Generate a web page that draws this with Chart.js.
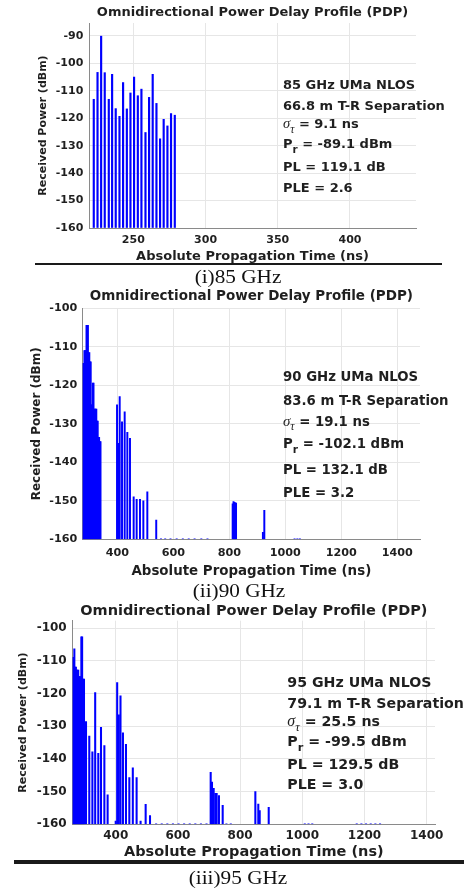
<!DOCTYPE html>
<html>
<head>
<meta charset="utf-8">
<script src="https://cdn.jsdelivr.net/npm/chart.js@4.4.1/dist/chart.umd.min.js"></script>
<style>
  body { margin: 0; background: #fff; }
  #page { position: relative; width: 464px; height: 890px; overflow: hidden; }
  canvas { position: absolute; left: 0; }
  .note { position: absolute; font-family: 'DejaVu Sans'; font-weight: bold; color: #1f1f1f; white-space: nowrap; line-height: 16px; }
  .note i { font-family: 'Liberation Serif'; font-weight: normal; font-size: 112%; }
  .note sub { font-size: 80%; vertical-align: -0.45em; line-height: 0; }
  .cap { position: absolute; font-family: 'Liberation Serif'; font-size: 18px; line-height: 20px; color: #111; white-space: nowrap; transform: translateX(-50%) scaleX(1.18); }
  .rule { position: absolute; background: #1a1a1a; }
</style>
</head>
<body>
<div id="page">
  <canvas id="pdp85" width="464" height="268" style="top:0px"></canvas>
  <canvas id="pdp90" width="464" height="300" style="top:282px"></canvas>
  <canvas id="pdp95" width="464" height="270" style="top:596px"></canvas>

  <div class="note" style="left:283px;top:77px;font-size:13px">85 GHz UMa NLOS</div>
  <div class="note" style="left:283px;top:98px;font-size:13px">66.8 m T-R Separation</div>
  <div class="note" style="left:283px;top:115px;font-size:13px"><i>σ</i><sub><i>τ</i></sub> = 9.1 ns</div>
  <div class="note" style="left:283px;top:136px;font-size:13px">P<sub>r</sub> = -89.1 dBm</div>
  <div class="note" style="left:283px;top:159px;font-size:13px">PL = 119.1 dB</div>
  <div class="note" style="left:283px;top:180px;font-size:13px">PLE = 2.6</div>

  <div class="note" style="left:283px;top:369px;font-size:13.3px">90 GHz UMa NLOS</div>
  <div class="note" style="left:283px;top:392.7px;font-size:13.3px">83.6 m T-R Separation</div>
  <div class="note" style="left:283px;top:412.7px;font-size:13.3px"><i>σ</i><sub><i>τ</i></sub> = 19.1 ns</div>
  <div class="note" style="left:283px;top:436px;font-size:13.3px">P<sub>r</sub> = -102.1 dBm</div>
  <div class="note" style="left:283px;top:462px;font-size:13.3px">PL = 132.1 dB</div>
  <div class="note" style="left:283px;top:485.3px;font-size:13.3px">PLE = 3.2</div>

  <div class="note" style="left:287.3px;top:674.3px;font-size:14.2px">95 GHz UMa NLOS</div>
  <div class="note" style="left:287.3px;top:695.3px;font-size:14.2px">79.1 m T-R Separation</div>
  <div class="note" style="left:287.3px;top:712.7px;font-size:14.2px"><i>σ</i><sub><i>τ</i></sub> = 25.5 ns</div>
  <div class="note" style="left:287.3px;top:732.7px;font-size:14.2px">P<sub>r</sub> = -99.5 dBm</div>
  <div class="note" style="left:287.3px;top:756px;font-size:14.2px">PL = 129.5 dB</div>
  <div class="note" style="left:287.3px;top:776.3px;font-size:14.2px">PLE = 3.0</div>

  <div class="rule" style="left:35px;top:263px;width:407px;height:2px"></div>
  <div class="cap" style="left:238px;top:267px">(i)85 GHz</div>
  <div class="cap" style="left:239px;top:581px">(ii)90 GHz</div>
  <div class="rule" style="left:14px;top:860px;width:450px;height:4px"></div>
  <div class="cap" style="left:238px;top:868px">(iii)95 GHz</div>
</div>

<script>
// 85 GHz: absolute propagation time (ns) and received power (dBm)
const times85 = [222.6, 225.2, 227.7, 230.2, 233.0, 235.3, 237.8, 240.4, 242.9, 245.5, 248.0, 250.5,
  253.1, 255.6, 258.4, 260.9, 263.4, 266.0, 268.5, 271.0, 273.6, 276.1, 278.7];
const power85 = [-113.1, -103.3, -90.1, -103.4, -113.1, -104.0, -116.5, -119.3, -107.0, -116.6, -110.8, -105.0,
  -111.8, -109.4, -125.2, -112.4, -104.0, -114.6, -127.5, -120.4, -122.8, -118.3, -118.9];

// 90 GHz
const times90 = [277.5, 280, 282.5, 285, 287.5, 290, 292.5, 295, 297.5, 300, 302.5, 305, 307.5, 310,
  312.5, 315, 317.5, 320, 322.5, 325, 327.5, 330, 332.5, 335, 337.5, 340,
  399, 403.7, 408.5, 416.8, 426.3, 435.8, 445.3, 458.4, 469.1, 481, 493, 507.2, 539,
  556, 571, 590, 612, 634, 655, 676, 700, 722,
  812, 815, 818, 821, 824, 920, 925, 1033, 1043, 1052];
const power90 = [-114.3, -114.3, -111.0, -111.0, -111.0, -104.4, -104.4, -104.4, -111.5, -111.5, -113.9, -113.9, -125.1, -125.1,
  -119.4, -119.4, -126.2, -126.2, -126.2, -126.2, -129.3, -129.3, -133.5, -133.5, -134.6, -134.6,
  -125.1, -135.1, -122.9, -129.5, -126.9, -132.2, -133.8, -149.0, -149.6, -149.6, -150.0, -147.7, -155.0,
  -159.85, -159.85, -159.85, -159.85, -159.85, -159.85, -159.85, -159.85, -159.85,
  -150.8, -150.2, -150.4, -150.5, -150.6, -158.2, -152.5, -159.85, -159.85, -159.85];

// 95 GHz
const times95 = [262, 264.5, 267, 269.5, 272, 274.5, 277, 279.5, 282, 284.5, 287, 289.5, 292, 295.5, 298,
  304.5, 315, 325, 334, 344, 352.7, 363.5, 374,
  400, 404.7, 410, 415.4, 423.3, 433, 443.8, 455, 467.2, 480, 496.3, 510.3,
  530, 548, 566, 584, 602, 620, 638, 656, 674, 692,
  705.4, 709.6, 715, 720.4, 724.6, 732, 744, 756, 770,
  849, 858.5, 863, 892, 1008, 1020, 1032, 1175, 1190, 1205, 1220, 1235, 1250];
const power95 = [-108.9, -108.9, -106.3, -111.9, -111.9, -112.8, -112.8, -112.8, -114.8, -114.8, -114.8, -102.6, -102.6, -115.6, -115.6,
  -128.6, -133.0, -137.8, -119.7, -138.3, -130.3, -135.9, -151.0,
  -159.0, -116.6, -126.5, -120.7, -132.0, -135.5, -145.7, -142.7, -145.7, -159.0, -153.9, -157.3,
  -159.85, -159.85, -159.85, -159.85, -159.85, -159.85, -159.85, -159.85, -159.85, -159.85,
  -144.1, -147.1, -149.0, -150.5, -150.5, -151.2, -154.2, -159.85, -159.85,
  -150.0, -153.8, -155.8, -154.8, -159.85, -159.85, -159.85, -159.85, -159.85, -159.85, -159.85, -159.85, -159.85];

// tick values
const xTicks85 = [250, 300, 350, 400];
const xTicksWide = [400, 600, 800, 1000, 1200, 1400];
const yTicks85 = [-160, -150, -140, -130, -120, -110, -100, -90];
const yTicksWide = [-160, -150, -140, -130, -120, -110, -100];

const TEXT = '#1f1f1f';
const FAMILY = 'DejaVu Sans';

function drawPDP(id, times, power, xTicks, yTicks, g) {
  const ctx = document.getElementById(id).getContext('2d');
  const tickFont = { family: FAMILY, weight: 'bold', size: g.tickSize };
  return new Chart(ctx, {
    type: 'bar',
    data: {
      datasets: [{
        data: times.map((t, i) => ({ x: t, y: power[i] })),
        base: -160,
        backgroundColor: '#0000ff',
        borderWidth: 0,
        barThickness: g.barWidth,
      }],
    },
    options: {
      responsive: false,
      animation: false,
      layout: { padding: { left: 0, right: g.padRight, top: 0, bottom: 0 } },
      plugins: {
        legend: { display: false },
        tooltip: { enabled: false },
        title: {
          display: true,
          text: 'Omnidirectional Power Delay Profile (PDP)',
          fullSize: false,
          color: TEXT,
          font: { family: FAMILY, weight: 'bold', size: g.titleSize, lineHeight: 1.2 },
          padding: g.titlePad,
        },
      },
      scales: {
        x: {
          type: 'linear',
          min: g.xMin,
          max: g.xMax,
          offset: false,
          grid: { color: '#e6e6e6', drawTicks: false, offset: false },
          border: { color: '#8a8a8a' },
          ticks: { padding: g.xTickPad, color: TEXT, font: tickFont, maxRotation: 0, callback: (v) => String(v) },
          afterBuildTicks: (s) => { s.ticks = xTicks.map((v) => ({ value: v })); },
          title: {
            display: true,
            text: 'Absolute Propagation Time (ns)',
            color: TEXT,
            font: { family: FAMILY, weight: 'bold', size: g.xTitleSize, lineHeight: 1.2 },
            padding: { top: 0, bottom: g.xTitlePad },
          },
          afterFit: (s) => { s.height = g.xAxisH; },
        },
        y: {
          min: -160,
          max: g.yMax,
          grid: { color: '#e6e6e6', drawTicks: false },
          border: { color: '#8a8a8a' },
          ticks: { padding: g.yTickPad, color: TEXT, font: tickFont, callback: (v) => String(v) },
          afterBuildTicks: (s) => { s.ticks = yTicks.map((v) => ({ value: v })); },
          title: {
            display: true,
            text: 'Received Power (dBm)',
            color: TEXT,
            font: { family: FAMILY, weight: 'bold', size: g.yTitleSize, lineHeight: 1.2 },
            padding: { top: g.yTitlePad, bottom: 0 },
          },
          afterFit: (s) => { s.width = g.left; },
        },
      },
    },
  });
}

drawPDP('pdp85', times85, power85, xTicks85, yTicks85, {
  left: 89, padRight: 48, xAxisH: 40, xMin: 219.3, xMax: 445.7, yMax: -85.3,
  titleSize: 13, titlePad: { top: 5.2, bottom: 2.2 }, tickSize: 11, xTickPad: 5.4, yTickPad: 5.7,
  xTitleSize: 13, xTitlePad: 3.2, yTitleSize: 11, yTitlePad: 36.4, barWidth: 1.5,
});
drawPDP('pdp90', times90, power90, xTicksWide, yTicksWide, {
  left: 82.7, padRight: 44, xAxisH: 42.7, xMin: 276.4, xMax: 1481, yMax: -100,
  titleSize: 13.5, titlePad: { top: 5.9, bottom: 4.2 }, tickSize: 11.2, xTickPad: 7, yTickPad: 5.4,
  xTitleSize: 13.4, xTitlePad: 2.3, yTitleSize: 12, yTitlePad: 29.5, barWidth: 1.3,
});
drawPDP('pdp95', times95, power95, xTicksWide, yTicksWide, {
  left: 72.7, padRight: 29, xAxisH: 41.7, xMin: 261.7, xMax: 1426.7, yMax: -97.7,
  titleSize: 14.5, titlePad: { top: 7, bottom: 0.3 }, tickSize: 12, xTickPad: 4.5, yTickPad: 6,
  xTitleSize: 14.5, xTitlePad: 4.6, yTitleSize: 11, yTitlePad: 16.1, barWidth: 1.4,
});
</script>
</body>
</html>
